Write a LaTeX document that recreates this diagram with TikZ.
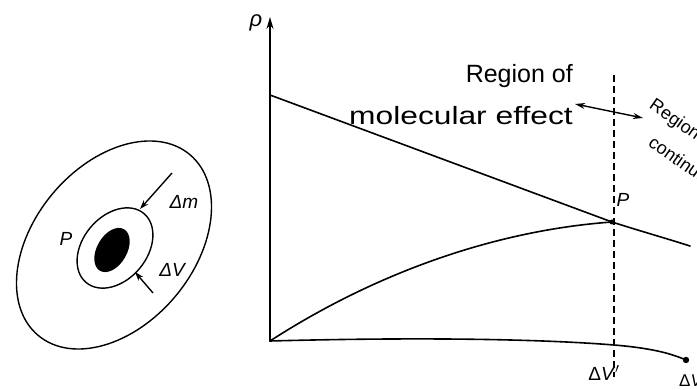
\documentclass[tikz,border=0pt]{standalone}
\usepackage{fontspec}
\setmainfont{Liberation Sans}
\usetikzlibrary{arrows.meta}
\begin{document}
\begin{tikzpicture}[x=1pt,y=1pt,
  curve/.style={line width=1.6pt, line cap=round},
  thinline/.style={line width=1.4pt},
  lbl/.style={font=\fontsize{25}{29}\selectfont, inner sep=0pt},
  small/.style={font=\fontsize{19}{22}\selectfont\itshape, inner sep=0pt},
  tip/.style={-{Stealth[length=9pt,width=6pt]}}]
\useasboundingbox (0,0) rectangle (697,389);
% left figure
\draw[thinline] (114,144) ellipse[x radius=118, y radius=80, rotate=50];
\draw[thinline] (115,141) ellipse[x radius=45, y radius=32, rotate=50];
\fill (112,139) ellipse[x radius=24, y radius=15, rotate=60];
\coordinate (m0) at (172,216);
\coordinate (m1) at (140,180);
\coordinate (v0) at (153,96);
\coordinate (v1) at (135,117);
\draw[thinline,tip] (m0) -- (m1);
\draw[thinline,tip] (v0) -- (v1);
\node[small] (dm) at (184,187) {Δm};
\node[small] (dv) at (172,119) {ΔV};
\node[small] (pl) at (66,150) {P};
% graph
\coordinate (O) at (270,48);
\coordinate (Y) at (270,372);
\coordinate (A) at (270,294);
\coordinate (P) at (612,167);
\coordinate (R) at (690,143);
\coordinate (S) at (614,44);
\coordinate (E) at (686,29);
\coordinate (D0) at (614,314);
\coordinate (D1) at (614,12);
\draw[curve,-{Stealth[length=12pt,width=7pt]}] (O) -- (Y);
\node[font=\fontsize{22}{26}\selectfont\itshape, inner sep=0pt] (rho) at (256,366) {ρ};
\draw[curve] (A) -- (P) .. controls (640,158) and (665,151) .. (R);
\draw[curve] (O) .. controls (380,119) and (500,159) .. (P);
\draw[curve] (O) .. controls (420,52) and (540,50) .. (S) .. controls (650,41) and (670,36) .. (E);
\fill (E) circle (3.2);
\fill (P) circle (2.5);
\draw[line width=1.3pt, dashed, dash pattern=on 7pt off 4pt] (D0) -- (D1);
\node[small] (pp) at (623,189) {P};
\node[small,font=\fontsize{19}{22}\selectfont] (dvp) at (604,16) {Δ\textit{V}$'$};
\node[small,font=\fontsize{17}{20}\selectfont,anchor=west] (dvr) at (679,8) {Δ\textit{V}};
% texts
\node[lbl, anchor=base east] (t1) at (573,306) {Region of};
\node[lbl, anchor=base east, xscale=1.27] (t2) at (573,264) {molecular effect};
\coordinate (a0) at (575,285);
\coordinate (a1) at (643,271);
\draw[line width=1.4pt,{Stealth[length=10pt,width=6pt]}-{Stealth[length=10pt,width=6pt]}] (a0) -- (a1);
\node[lbl, anchor=west, rotate=-35, font=\fontsize{18}{22}\selectfont] (t3) at (651,285) {Region of};
\node[lbl, anchor=west, rotate=-35, font=\fontsize{18}{22}\selectfont] (t4) at (651,249) {continuum};
\end{tikzpicture}
\end{document}
